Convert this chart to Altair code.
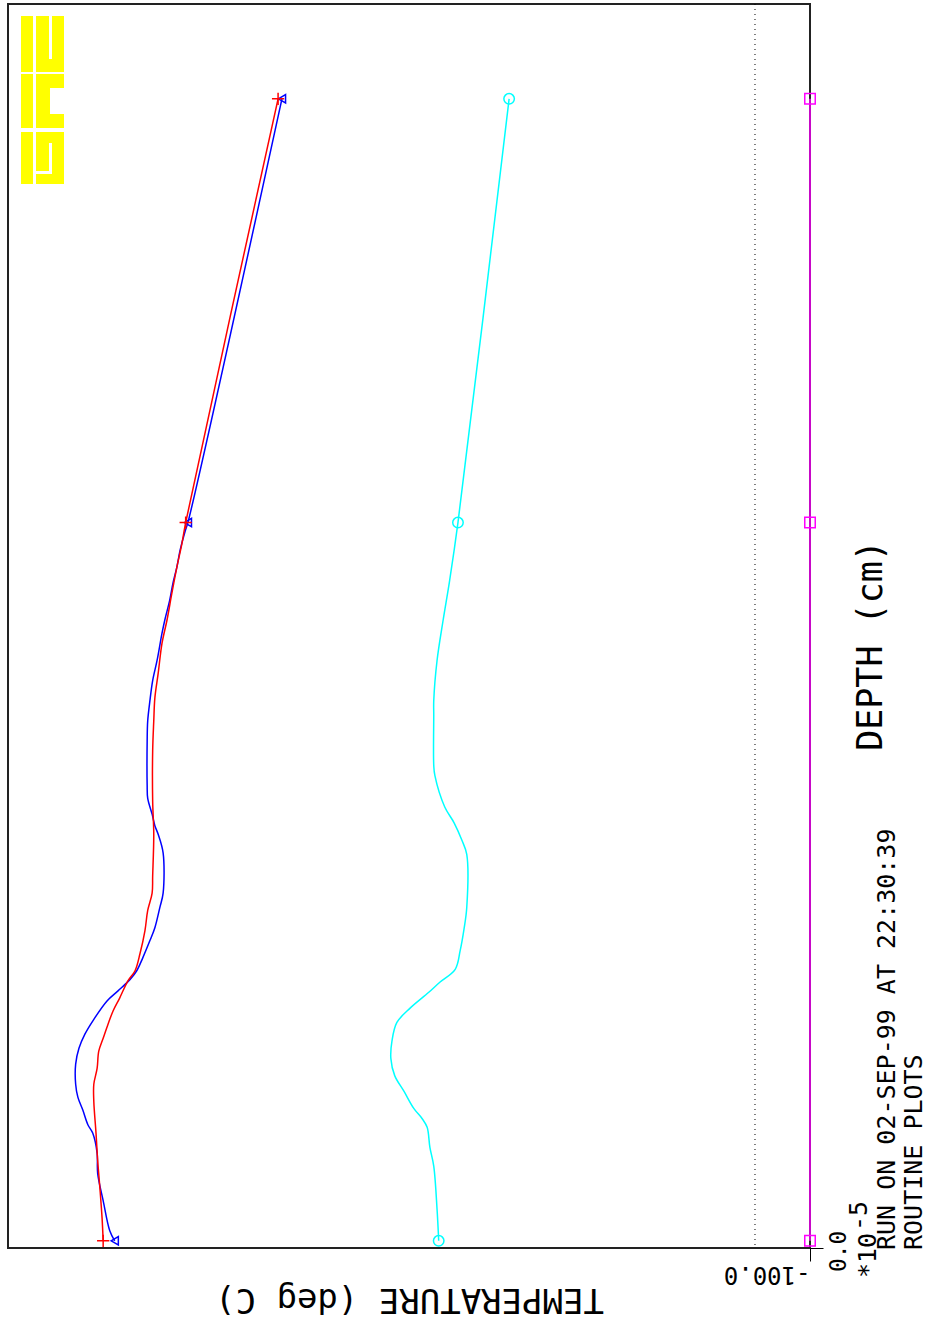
import altair as alt
import pandas as pd

# Temperature profiles versus depth (depth in units of 1e-5 cm)
BLUE_DEPTH = [0.00, 0.07, 0.28, 0.47, 0.61, 0.75, 0.81, 0.91, 1.00, 1.09,
              1.23, 1.34, 1.44, 1.53, 1.67, 1.74, 1.82, 1.88, 1.97, 2.09,
              2.18, 2.32, 2.42, 2.70, 2.83, 2.89, 2.97, 3.08, 3.17, 3.48,
              3.62, 3.76, 3.90, 4.04, 4.23, 4.32, 4.46, 4.58, 4.69, 4.81,
              4.94, 5.00, 7.95]
BLUE_TEMP = [1164, 1173, 1185, 1195, 1196, 1204, 1213, 1222, 1231, 1235,
             1235, 1229, 1218, 1204, 1178, 1158, 1136, 1124, 1113, 1100,
             1091, 1082, 1076, 1076, 1085, 1091, 1096, 1104, 1105, 1105,
             1104, 1100, 1095, 1087, 1078, 1073, 1064, 1058, 1051, 1045,
             1036, 1031, 860]

RED_DEPTH = [0.00, 0.16, 0.37, 0.56, 0.75, 0.97, 1.09, 1.20, 1.32, 1.41,
             1.51, 1.60, 1.69, 1.81, 1.88, 2.00, 2.16, 2.30, 2.42, 2.54,
             2.83, 3.06, 3.41, 3.62, 3.78, 3.95, 4.16, 4.32, 4.51, 4.69,
             4.85, 5.00, 7.95]
RED_TEMP = [1185, 1187, 1191, 1195, 1198, 1202, 1202, 1196, 1193, 1185,
            1176, 1167, 1155, 1140, 1127, 1118, 1109, 1104, 1096, 1095,
            1093, 1095, 1095, 1093, 1091, 1085, 1078, 1069, 1060, 1051,
            1042, 1035, 867]

CYAN_DEPTH = [0.00, 0.22, 0.52, 0.65, 0.79, 0.85, 0.92, 1.04, 1.15, 1.27,
              1.39, 1.52, 1.62, 1.73, 1.80, 1.89, 2.02, 2.17, 2.32, 2.69,
              2.79, 2.91, 3.02, 3.24, 3.31, 3.66, 3.76, 4.04, 4.32, 4.60,
              5.00, 7.95]
CYAN_TEMP = [575, 578, 584, 591, 596, 605, 620, 638, 655, 662,
             660, 651, 627, 593, 573, 545, 536, 529, 524, 524,
             533, 547, 564, 582, 584, 584, 584, 578, 567, 555,
             540, 447]

MAGENTA_DEPTH = [0.00, 5.00, 7.95]
MAGENTA_TEMP = [-100, -100, -100]

# depths at which the plotted nodes carry a symbol
MARKER_DEPTHS = [0.00, 5.00, 7.95]

# dotted reference line on the temperature axis
REF_TEMP = [0.0]

SERIES = [
    ("t1", BLUE_DEPTH, BLUE_TEMP, "#0000ff", "triangle-left", 70),
    ("t2", RED_DEPTH, RED_TEMP, "#ff0000", "M-1,0L1,0M0,-1L0,1", 150),
    ("t3", CYAN_DEPTH, CYAN_TEMP, "#00ffff", "circle", 110),
    ("t4", MAGENTA_DEPTH, MAGENTA_TEMP, "#ff00ff", "square", 110),
]

MONO = "DejaVu Sans Mono"

x_scale = alt.Scale(domain=[-100, 1358], reverse=True, nice=False, zero=False)
y_scale = alt.Scale(domain=[-0.05, 8.61], nice=False, zero=False)

x_enc = alt.X(
    "temp:Q",
    scale=x_scale,
    axis=alt.Axis(
        values=[-100],
        labelExpr="toString(datum.value) + '.0'",
        labelAngle=180,
        labelAlign="left",
        labelBaseline="alphabetic",
        labelPadding=5,
        labelFlush=False,
        labelOverlap=False,
        labelFont=MONO,
        labelFontSize=24,
        labelColor="black",
        tickSize=13,
        tickColor="black",
        tickWidth=1,
        domain=False,
        grid=False,
        title="TEMPERATURE   (deg C)",
        titleAngle=180,
        titleX=401,
        titleY=50,
        titleAlign="center",
        titleBaseline="middle",
        titleFont=MONO,
        titleFontSize=34,
        titleFontWeight="normal",
        titleColor="black",
    ),
)

y_enc = alt.Y(
    "depth:Q",
    scale=y_scale,
    axis=alt.Axis(
        orient="right",
        values=[0],
        format=".1f",
        labelAngle=270,
        labelAlign="center",
        labelBaseline="middle",
        labelPadding=15,
        tickOffset=7,
        labelOffset=3,
        labelFlush=False,
        labelFont=MONO,
        labelFontSize=23,
        labelColor="black",
        tickSize=13,
        tickColor="black",
        tickWidth=1,
        domain=False,
        grid=False,
        title="DEPTH  (cm)",
        titleAngle=270,
        titleX=60,
        titleY=641,
        titleAlign="center",
        titleBaseline="middle",
        titleFont=MONO,
        titleFontSize=35,
        titleFontWeight="normal",
        titleColor="black",
    ),
)

layers = []

ref = alt.Chart(pd.DataFrame({"temp": REF_TEMP})).mark_rule(
    color="black", strokeDash=[1, 4], strokeWidth=1
).encode(x=x_enc)
layers.append(ref)

for name, depths, temps, color, shape, size in SERIES:
    df = pd.DataFrame({"depth": depths, "temp": temps})
    df["idx"] = range(len(df))
    line = alt.Chart(df).mark_line(
        color=color, strokeWidth=1.5, interpolate="catmull-rom"
    ).encode(x=x_enc, y=y_enc, order="idx:Q")
    pts = alt.Chart(df[df["depth"].isin(MARKER_DEPTHS)]).mark_point(
        shape=shape, size=size, filled=False, color=color, strokeWidth=1.5, opacity=1
    ).encode(x=x_enc, y=y_enc)
    layers += [line, pts]

# GTE logo in the upper-left corner (pixel coordinates inside the plot frame)
LOGO_RECTS = [
    (13, 25, 12, 68, "#ffff00"), (28, 56, 12, 68, "#ffff00"),
    (13, 25, 70, 124, "#ffff00"), (28, 56, 70, 124, "#ffff00"),
    (13, 25, 128, 180, "#ffff00"), (28, 56, 128, 180, "#ffff00"),
    (41, 44, 12, 55, "#ffffff"),
    (42, 56, 84, 110, "#ffffff"),
    (25, 44, 167, 170, "#ffffff"),
    (41, 44, 139, 170, "#ffffff"),
]
logo_df = pd.DataFrame(LOGO_RECTS, columns=["x0", "x1", "y0", "y1", "fill"])
logo = alt.Chart(logo_df).mark_rect(strokeWidth=0).encode(
    x=alt.X("x0:Q", scale=None),
    x2="x1:Q",
    y=alt.Y("y0:Q", scale=None),
    y2="y1:Q",
    color=alt.Color("fill:N", scale=None),
)
layers.insert(0, logo)

# run stamp and scale factor beside the depth axis
NOTES = [
    ("*10", 860, 1274, 25),
    ("-5", 851, 1227, 25),
    ("RUN ON 02-SEP-99 AT 22:30:39", 879, 1246, 25),
    ("ROUTINE PLOTS", 906, 1246, 25),
]
for text, px, py, fs in NOTES:
    layers.append(
        alt.Chart(pd.DataFrame({"k": [0]})).mark_text(
            text=text, angle=270, align="left", baseline="middle",
            font=MONO, fontSize=fs, color="black",
        ).encode(x=alt.value(px), y=alt.value(py))
    )

chart = alt.layer(*layers).properties(
    width=802,
    height=1244,
    padding={"left": 8, "top": 3, "right": 0, "bottom": 20},
    background="white",
).configure_view(stroke="#222222", strokeWidth=2)

chart.save("out.html", embed_options={"renderer": "svg", "actions": False})
